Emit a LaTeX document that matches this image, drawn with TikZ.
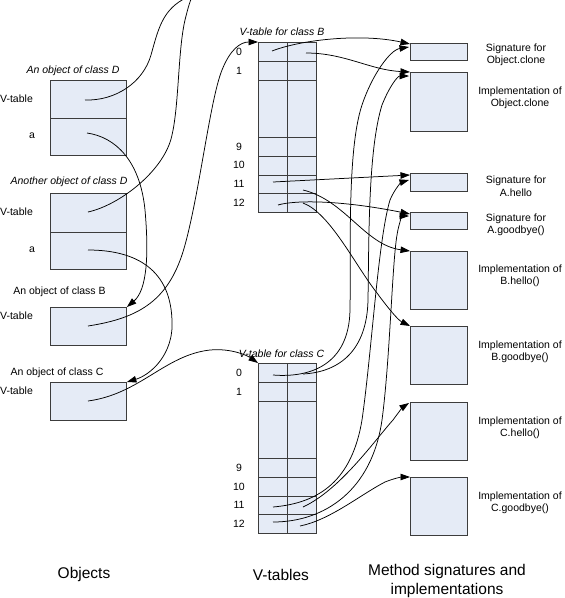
\documentclass[tikz,border=0pt]{standalone}
\usepackage{fontspec}
\setmainfont{Liberation Sans}
\usetikzlibrary{arrows.meta,calc}
\definecolor{boxfill}{HTML}{E5EBF6}
\definecolor{boxline}{HTML}{3C3C3C}
\begin{document}
\begin{tikzpicture}[x=1pt,y=-1pt,
  box/.style={draw=boxline,fill=boxfill,line width=0.9pt,inner sep=0pt,anchor=north west},
  lbl/.style={font=\fontsize{10.5}{12.5}\selectfont,inner sep=0pt,align=center},
  ilbl/.style={font=\fontsize{10.5}{12.5}\selectfont\itshape,inner sep=0pt,align=center},
  big/.style={font=\fontsize{15.5}{18.5}\selectfont,inner sep=0pt,align=center},
  conn/.style={line width=0.75pt,black},
  arr/.style={conn,-{Triangle[length=9.5pt,width=6.5pt]}}]
\useasboundingbox (0,0) rectangle (565,598);
\clip (0,0) rectangle (565,598);

% ---------- objects ----------
\node[box,minimum width=76pt,minimum height=38pt] (d1v) at (50,80) {};
\node[box,minimum width=76pt,minimum height=37pt] (d1a) at (50,118) {};
\node[box,minimum width=76pt,minimum height=39pt] (d2v) at (50,193) {};
\node[box,minimum width=76pt,minimum height=37pt] (d2a) at (50,232) {};
\node[box,minimum width=76pt,minimum height=38pt] (ob) at (50,307) {};
\node[box,minimum width=76pt,minimum height=38pt] (oc) at (50,382) {};

\node[ilbl] (lD1) at (73,70.5) {An object of class D};
\node[ilbl] (lD2) at (69,182) {Another object of class D};
\node[lbl] (lB) at (59.5,291.5) {An object of class B};
\node[lbl] (lC) at (57,372.5) {An object of class C};
\node[lbl] (vt1) at (16.5,98.5) {V-table};
\node[lbl] (vt2) at (16.5,211.5) {V-table};
\node[lbl] (vt3) at (16.5,315.5) {V-table};
\node[lbl] (vt4) at (16.5,390.5) {V-table};
\node[lbl] (fa1) at (32,136) {a};
\node[lbl] (fa2) at (32,250) {a};

% ---------- v-tables ----------
\node[box,minimum width=58pt,minimum height=170pt] (vtB) at (258,42) {};
\node[box,minimum width=58pt,minimum height=170pt] (vtC) at (258,363) {};
\foreach \t in {vtB,vtC}{
  \foreach \dy in {19,38,95,114,133,151}{
    \draw[boxline,line width=0.9pt] ($(\t.north west)+(0,\dy)$) -- ($(\t.north east)+(0,\dy)$);
  }
  \draw[boxline,line width=0.9pt] (\t.north) -- (\t.south);
}
\node[ilbl] (lvB) at (282,32) {V-table for class B};
\node[ilbl] (lvC) at (281.5,353.5) {V-table for class C};
\foreach \n/\y in {0/51.5,1/70.5,9/146.5,10/165,11/183.5,12/202.5}{
  \node[lbl] (rB\n) at (239,\y) {\n};
}
\foreach \n/\y in {0/372.5,1/391.5,9/467.5,10/486.5,11/505,12/523.5}{
  \node[lbl] (rC\n) at (239,\y) {\n};
}

% ---------- methods ----------
\node[box,minimum width=57pt,minimum height=17pt] (sigOC) at (410,43) {};
\node[box,minimum width=57pt,minimum height=59pt] (implOC) at (410,72) {};
\node[box,minimum width=57pt,minimum height=18pt] (sigAh) at (410,173) {};
\node[box,minimum width=57pt,minimum height=17pt] (sigAg) at (410,212) {};
\node[box,minimum width=57pt,minimum height=58pt] (implBh) at (410,251) {};
\node[box,minimum width=57pt,minimum height=58pt] (implBg) at (410,326) {};
\node[box,minimum width=57pt,minimum height=58pt] (implCh) at (410,402) {};
\node[box,minimum width=57pt,minimum height=58pt] (implCg) at (410,477) {};

\node[lbl] (tsOC) at (516,55) {Signature for\\Object.clone};
\node[lbl] (tiOC) at (520,98) {Implementation of\\Object.clone};
\node[lbl] (tsAh) at (516,186) {Signature for\\A.hello};
\node[lbl] (tsAg) at (516,225) {Signature for\\A.goodbye()};
\node[lbl] (tiBh) at (520,276) {Implementation of\\B.hello()};
\node[lbl] (tiBg) at (520,352) {Implementation of\\B.goodbye()};
\node[lbl] (tiCh) at (520,428) {Implementation of\\C.hello()};
\node[lbl] (tiCg) at (520,503) {Implementation of\\C.goodbye()};

% ---------- column titles ----------
\node[big] (tObj) at (84,574.5) {Objects};
\node[big] (tVt) at (281,574.5) {V-tables};
\node[big] (tMeth) at (447,581) {Method signatures and\\implementations};

% ---------- connector end points ----------
\coordinate (d1vp) at (85,100);
\coordinate (d2vp) at (88,212);
\coordinate (d1ap) at (87,133);
\coordinate (d2ap) at (88,250);
\coordinate (obp) at (88,326);
\coordinate (ocp) at (88,401);
\coordinate (vtD1) at (200,-10);
\coordinate (vtD2) at (195,-10);
\coordinate (b0l) at (272,51);
\coordinate (b0r) at (306,53);
\coordinate (b11l) at (273,182);
\coordinate (b11r) at (303,190);
\coordinate (b12l) at (278,205);
\coordinate (b12r) at (303,203);
\coordinate (c0l) at (273,375);
\coordinate (c0r) at (303,374);
\coordinate (c11l) at (273,507);
\coordinate (c11r) at (303,507);
\coordinate (c12l) at (273,522);
\coordinate (c12r) at (300,526);

% ---------- connectors from objects ----------
\draw[conn] (d1vp) .. controls (115,101) and (143,83) .. (151,55)
  .. controls (158,30) and (162,12) .. (182,0) .. controls (189,-4) and (194,-7) .. (vtD1);
\draw[conn] (d2vp) .. controls (120,205) and (165,170) .. (172,135)
  .. controls (179,105) and (178,50) .. (185,20) .. controls (188,8) and (190,0) .. (vtD2);
\draw[arr] (d1ap) .. controls (115,137) and (140,160) .. (145,210)
  .. controls (149,255) and (147,290) .. (ob.north east);
\draw[arr] (d2ap) .. controls (130,250) and (170,265) .. (172,320)
  .. controls (174,355) and (150,375) .. (oc.north east);
\draw[arr] (obp) .. controls (140,318) and (170,300) .. (185,245)
  .. controls (200,190) and (210,100) .. (222,70) .. controls (230,50) and (240,42) .. (vtB.north west);
\draw[arr] (ocp) .. controls (140,394) and (165,355) .. (210,350)
  .. controls (232,348) and (248,356) .. (vtC.north west);

% ---------- connectors from v-table B ----------
\draw[arr] (b0l) .. controls (300,40) and (360,33) .. ($(sigOC.north west)+(0,1)$);
\draw[arr] (b0r) .. controls (345,53) and (370,70) .. (implOC.north west);
\draw[arr] (b11l) -- ($(sigAh.north west)+(0,2)$);
\draw[arr] (b12l) .. controls (295,200) and (340,200) .. ($(sigAg.north west)+(0,2)$);
\draw[arr] (b11r) .. controls (345,200) and (365,245) .. (implBh.north west);
\draw[arr] (b12r) .. controls (330,213) and (355,265) .. (377,293)
  .. controls (388,308) and (398,320) .. (implBg.north west);

% ---------- connectors from v-table C ----------
\draw[arr] (c0l) .. controls (310,378) and (349,365) .. (350,310)
  .. controls (351,250) and (347,150) .. (362,105)
  .. controls (372,75) and (390,50) .. ($(sigOC.north west)+(-1,4)$);
\draw[arr] (c0r) .. controls (340,372) and (367,350) .. (368,300)
  .. controls (369,240) and (368,150) .. (382,105)
  .. controls (390,85) and (398,76) .. ($(implOC.north west)+(-1,4)$);
\draw[arr] (c11l) .. controls (320,503) and (352,480) .. (362,420)
  .. controls (372,350) and (378,240) .. (390,200)
  .. controls (395,188) and (402,182) .. ($(sigAh.north west)+(-1,7)$);
\draw[arr] (c12l) .. controls (325,522) and (372,490) .. (382,420)
  .. controls (390,360) and (392,265) .. (397,235)
  .. controls (399,222) and (403,216) .. ($(sigAg.north west)+(-1,4)$);
\draw[arr] (c11r) .. controls (340,490) and (375,440) .. (393,420)
  .. controls (398,413) and (403,407) .. ($(implCh.north west)+(-1,1)$);
\draw[arr] (c12r) .. controls (330,520) and (360,495) .. (385,482)
  .. controls (395,478) and (402,477) .. (implCg.north west);
\end{tikzpicture}
\end{document}
